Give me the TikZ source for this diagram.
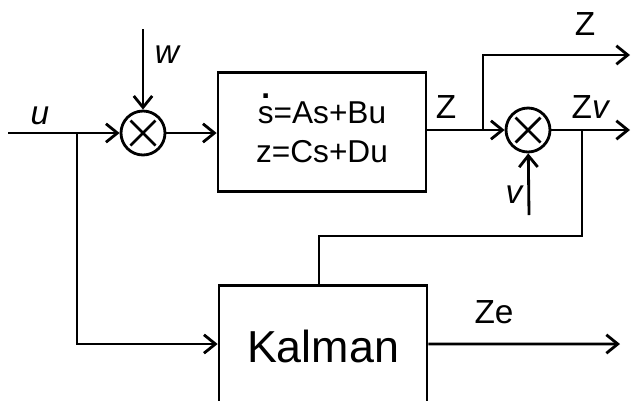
\documentclass[tikz,border=0pt]{standalone}
\usepackage{fontspec}
\setmainfont{Liberation Sans}
\usetikzlibrary{arrows.meta}

% s with a dot over it
\newcommand{\sdot}{\ooalign{s\cr\hidewidth\smash{\raisebox{0.78em}{\textbf{.}}}\hidewidth\cr}}

\begin{document}
\begin{tikzpicture}[
  x=0.02cm, y=-0.02cm,
  line width=1.6pt,
  sysbox/.style={rectangle, draw, minimum width=4.16cm, minimum height=2.38cm,
              align=center, font=\fontsize{18}{22}\selectfont},
  kalbox/.style={rectangle, draw, minimum width=4.16cm, inner sep=0pt,
              text height=43.7pt, text depth=23.2pt, font=\fontsize{25.5}{30}\selectfont},
  mult/.style={circle, draw, minimum size=0.88cm, inner sep=0pt,
              path picture={\draw[line width=1.6pt]
                ([shift={(-0.25cm,-0.25cm)}]path picture bounding box.center) --
                ([shift={(0.25cm,0.25cm)}]path picture bounding box.center)
                ([shift={(-0.25cm,0.25cm)}]path picture bounding box.center) --
                ([shift={(0.25cm,-0.25cm)}]path picture bounding box.center);}},
  arr/.style={-{Straight Barb[length=6.5pt,width=10.5pt]}},
  sig/.style={font=\fontsize{19}{22}\selectfont, inner sep=0pt}
]
\useasboundingbox (0,0) rectangle (631,400);

%% blocks
\node[mult] (sum1) at (143,133) {};
\node[sysbox] (sys) at (322,132) {\sdot=As+Bu\\z=Cs+Du};
\node[mult] (sum2) at (528,130) {};
\node[kalbox, anchor=base] (kal) at (323,362) {Kalman};

%% free ends and branch points
\coordinate (uin) at (8,133);
\coordinate (win) at (143,29);
\coordinate (bu) at (77,133);
\coordinate (bz) at (483,130);
\coordinate (zout) at (630,55);
\coordinate (zvout) at (630,130);
\coordinate (bzv) at (582,130);
\coordinate (vin) at (529,215);
\coordinate (fb) at (319,236);
\coordinate (zeout) at (620,344);

%% connectors
\draw[arr] (uin) -- (sum1);
\draw[arr] (win) -- (sum1);
\draw[arr] (sum1) -- (sum1 -| sys.west);
\draw (sum2 -| sys.east) -- (bz);
\draw[arr] (bz) -- (sum2);
\draw[arr] (bz) |- (zout);
\draw[arr] (sum2) -- (zvout);
\draw[arr] (vin) -- (sum2);
\draw (bzv) |- (fb) -- (fb |- kal.north);
\draw[arr] (bu) |- (kal.west);
\draw[arr] (kal.east) -- (zeout);

%% signal labels
\node[sig] (lu) at (40,116) {\itshape u};
\node[sig] (lw) at (167,55) {\itshape w};
\node[sig] (lz) at (446,107) {Z};
\node[sig] (lzt) at (585,24) {Z};
\node[sig] (lzv) at (591,107) {Z\textit{v}};
\node[sig] (lv) at (514,195) {\itshape v};
\node[sig] (lze) at (494,312) {Ze};

\end{tikzpicture}
\end{document}
